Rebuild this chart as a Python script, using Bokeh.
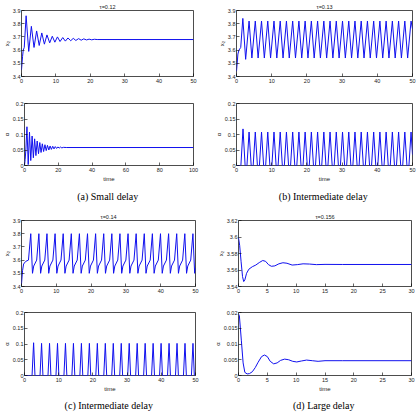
from bokeh.plotting import figure
from bokeh.layouts import column, row
from bokeh.models import Range1d, FixedTicker, CustomJSTickFormatter, Title
from bokeh.embed import file_html
from bokeh.resources import INLINE

# ---------------- data ----------------
# (a) small delay, tau = 0.12
a_t_x2 = [0, 0.3, 0.5, 0.8, 1.34, 2.1, 2.87, 3.64, 4.4, 5.15, 5.9, 6.65, 7.4, 8.2,
          8.95, 9.7, 10.45, 11.2, 12.0, 12.75, 13.5, 14.3, 15.05, 15.8,
          16.6, 17.35, 18.1, 18.9, 19.65, 20.4, 21.2, 22.0, 50]
a_x2 = [3.45, 3.55, 3.60, 3.62, 3.86, 3.59, 3.78, 3.62, 3.745, 3.635, 3.73, 3.645, 3.715, 3.655,
        3.705, 3.66, 3.70, 3.665, 3.695, 3.668, 3.692, 3.671, 3.689, 3.673,
        3.687, 3.675, 3.685, 3.677, 3.683, 3.678, 3.682, 3.68, 3.68]
a_t_alpha = [0, 0.4, 0.8, 1.45, 2.2, 2.95, 3.7, 4.5, 5.25, 6.0, 6.75, 7.5, 8.3, 9.05, 9.8,
             10.55, 11.3, 12.1, 12.85, 13.6, 14.4, 15.15, 15.9, 16.7, 17.45, 18.2, 19.0,
             19.75, 20.5, 21.3, 22.1, 23.0, 25.0, 100]
a_alpha = [0, 0.02, 0.05, 0.125, 0.003, 0.108, 0.016, 0.095, 0.025, 0.086, 0.032, 0.079, 0.038, 0.074, 0.042,
           0.070, 0.045, 0.067, 0.048, 0.065, 0.050, 0.063, 0.052, 0.062, 0.0535, 0.061, 0.055,
           0.060, 0.056, 0.0595, 0.0568, 0.0585, 0.058, 0.058]

# (b) intermediate delay, tau = 0.13
b_t_x2 = [0, 0.4, 0.7, 1.2, 1.8, 2.6,
          3.57, 4.37, 5.34, 6.14, 7.11, 7.91, 8.88, 9.68, 10.65, 11.45,
          12.42, 13.22, 14.19, 14.99, 15.96, 16.76, 17.73, 18.53, 19.5, 20.3,
          21.27, 22.07, 23.04, 23.84, 24.81, 25.61, 26.58, 27.38, 28.35, 29.15,
          30.12, 30.92, 31.89, 32.69, 33.66, 34.46, 35.43, 36.23, 37.2, 38.0,
          38.97, 39.77, 40.74, 41.54, 42.51, 43.31, 44.28, 45.08, 46.05, 46.85,
          47.82, 48.62, 49.59, 50]
b_x2 = [3.44, 3.57, 3.60, 3.62, 3.84, 3.53,
        3.82, 3.54, 3.82, 3.54, 3.82, 3.54, 3.82, 3.54, 3.82, 3.54,
        3.82, 3.54, 3.82, 3.54, 3.82, 3.54, 3.82, 3.54, 3.82, 3.54,
        3.82, 3.54, 3.82, 3.54, 3.82, 3.54, 3.82, 3.54, 3.82, 3.54,
        3.82, 3.54, 3.82, 3.54, 3.82, 3.54, 3.82, 3.54, 3.82, 3.54,
        3.82, 3.54, 3.82, 3.54, 3.82, 3.54, 3.82, 3.54, 3.82, 3.54,
        3.82, 3.54, 3.82, 3.76]
b_t_alpha = [0, 1.25, 1.85, 2.45,
             2.97, 3.57, 4.17, 4.74, 5.34, 5.94, 6.51, 7.11, 7.71, 8.28, 8.88, 9.48,
             10.05, 10.65, 11.25, 11.82, 12.42, 13.02, 13.59, 14.19, 14.79, 15.36, 15.96, 16.56,
             17.13, 17.73, 18.33, 18.9, 19.5, 20.1, 20.67, 21.27, 21.87, 22.44, 23.04, 23.64,
             24.21, 24.81, 25.41, 25.98, 26.58, 27.18, 27.75, 28.35, 28.95, 29.52, 30.12, 30.72,
             31.29, 31.89, 32.49, 33.06, 33.66, 34.26, 34.83, 35.43, 36.03, 36.6, 37.2, 37.8,
             38.37, 38.97, 39.57, 40.14, 40.74, 41.34, 41.91, 42.51, 43.11, 43.68, 44.28, 44.88,
             45.45, 46.05, 46.65, 47.22, 47.82, 48.42, 48.99, 49.59, 50.0]
b_alpha = [0, 0, 0.118, 0,
           0, 0.108, 0, 0, 0.108, 0, 0, 0.108, 0, 0, 0.108, 0,
           0, 0.108, 0, 0, 0.108, 0, 0, 0.108, 0, 0, 0.108, 0,
           0, 0.108, 0, 0, 0.108, 0, 0, 0.108, 0, 0, 0.108, 0,
           0, 0.108, 0, 0, 0.108, 0, 0, 0.108, 0, 0, 0.108, 0,
           0, 0.108, 0, 0, 0.108, 0, 0, 0.108, 0, 0, 0.108, 0,
           0, 0.108, 0, 0, 0.108, 0, 0, 0.108, 0, 0, 0.108, 0,
           0, 0.108, 0, 0, 0.108, 0, 0, 0.108, 0.035]

# (c) intermediate delay, tau = 0.14
c_t_x2 = [0, 0.3, 0.6, 1.2, 2.0, 2.66,
          3.16, 3.51, 4.36, 4.99, 5.49, 5.84, 6.69, 7.32, 7.82, 8.17, 9.02, 9.65,
          10.15, 10.5, 11.35, 11.98, 12.48, 12.83, 13.68, 14.31, 14.81, 15.16, 16.01, 16.64,
          17.14, 17.49, 18.34, 18.97, 19.47, 19.82, 20.67, 21.3, 21.8, 22.15, 23.0, 23.63,
          24.13, 24.48, 25.33, 25.96, 26.46, 26.81, 27.66, 28.29, 28.79, 29.14, 29.99, 30.62,
          31.12, 31.47, 32.32, 32.95, 33.45, 33.8, 34.65, 35.28, 35.78, 36.13, 36.98, 37.61,
          38.11, 38.46, 39.31, 39.94, 40.44, 40.79, 41.64, 42.27, 42.77, 43.12, 43.97, 44.6,
          45.1, 45.45, 46.3, 46.93, 47.43, 47.78, 48.63, 49.26, 49.76, 50]
c_x2 = [3.42, 3.52, 3.57, 3.59, 3.60, 3.80,
        3.50, 3.555, 3.60, 3.80, 3.50, 3.555, 3.60, 3.80, 3.50, 3.555, 3.60, 3.80,
        3.50, 3.555, 3.60, 3.80, 3.50, 3.555, 3.60, 3.80, 3.50, 3.555, 3.60, 3.80,
        3.50, 3.555, 3.60, 3.80, 3.50, 3.555, 3.60, 3.80, 3.50, 3.555, 3.60, 3.80,
        3.50, 3.555, 3.60, 3.80, 3.50, 3.555, 3.60, 3.80, 3.50, 3.555, 3.60, 3.80,
        3.50, 3.555, 3.60, 3.80, 3.50, 3.555, 3.60, 3.80, 3.50, 3.555, 3.60, 3.80,
        3.50, 3.555, 3.60, 3.80, 3.50, 3.555, 3.60, 3.80, 3.50, 3.555, 3.60, 3.80,
        3.50, 3.555, 3.60, 3.80, 3.50, 3.555, 3.60, 3.80, 3.50, 3.54]
c_t_alpha = [0, 2.21, 2.66, 3.06,
             4.54, 4.99, 5.39, 6.87, 7.32, 7.72, 9.2, 9.65, 10.05, 11.53, 11.98, 12.38,
             13.86, 14.31, 14.71, 16.19, 16.64, 17.04, 18.52, 18.97, 19.37, 20.85, 21.3, 21.7,
             23.18, 23.63, 24.03, 25.51, 25.96, 26.36, 27.84, 28.29, 28.69, 30.17, 30.62, 31.02,
             32.5, 32.95, 33.35, 34.83, 35.28, 35.68, 37.16, 37.61, 38.01, 39.49, 39.94, 40.34,
             41.82, 42.27, 42.67, 44.15, 44.6, 45.0, 46.48, 46.93, 47.33, 48.81, 49.26, 49.66, 50]
c_alpha = [0, 0, 0.104, 0,
           0, 0.102, 0, 0, 0.102, 0, 0, 0.102, 0, 0, 0.102, 0,
           0, 0.102, 0, 0, 0.102, 0, 0, 0.102, 0, 0, 0.102, 0,
           0, 0.102, 0, 0, 0.102, 0, 0, 0.102, 0, 0, 0.102, 0,
           0, 0.102, 0, 0, 0.102, 0, 0, 0.102, 0, 0, 0.102, 0,
           0, 0.102, 0, 0, 0.102, 0, 0, 0.102, 0, 0, 0.102, 0, 0]

# (d) large delay, tau = 0.156
d_t_x2 = [0, 0.2, 0.45, 0.7, 0.9, 1.1, 1.4, 1.8, 2.4, 3.0, 3.6, 4.2, 4.7, 5.2, 5.7, 6.3,
          7.0, 7.7, 8.4, 9.3, 10.2, 11.2, 12.3, 13.5, 15, 18, 30]
d_x2 = [3.599, 3.59, 3.57, 3.552, 3.546, 3.548, 3.556, 3.561, 3.564, 3.566, 3.569, 3.5715,
        3.5705, 3.5665, 3.5645, 3.565, 3.5675, 3.5688, 3.5682, 3.566, 3.5665, 3.5675,
        3.5672, 3.5665, 3.5668, 3.5667, 3.5667]
d_t_alpha = [0, 0.15, 0.5, 0.8, 1.1, 1.5, 1.9, 2.4, 2.9, 3.4, 4.0, 4.5, 5.0, 5.5, 6.1, 6.7,
             7.3, 8.0, 8.7, 9.4, 10.1, 10.9, 11.8, 12.8, 13.8, 15, 18, 30]
d_alpha = [0.0195, 0.019, 0.011, 0.004, 0.001, 0.0005, 0.0006, 0.0012, 0.0025, 0.0042, 0.006,
           0.0065, 0.006, 0.0045, 0.0037, 0.004, 0.0048, 0.0052, 0.005, 0.0045, 0.0043, 0.0046,
           0.0049, 0.0047, 0.0045, 0.0047, 0.0047, 0.0047]

# tick positions and labels
xt50 = [0, 10, 20, 30, 40, 50]
xl50 = ["0", "10", "20", "30", "40", "50"]
xt100 = [0, 20, 40, 60, 80, 100]
xl100 = ["0", "20", "40", "60", "80", "100"]
xt30 = [0, 5, 10, 15, 20, 25, 30]
xl30 = ["0", "5", "10", "15", "20", "25", "30"]
yt_x2 = [3.4, 3.5, 3.6, 3.7, 3.8, 3.9]
yl_x2 = ["3.4", "3.5", "3.6", "3.7", "3.8", "3.9"]
yt_al = [0, 0.05, 0.1, 0.15, 0.2]
yl_al = ["0", "0.05", "0.1", "0.15", "0.2"]
yt_x2d = [3.54, 3.56, 3.58, 3.6, 3.62]
yl_x2d = ["3.54", "3.56", "3.58", "3.6", "3.62"]
yt_ald = [0, 0.005, 0.01, 0.015, 0.02]
yl_ald = ["0", "0.005", "0.01", "0.015", "0.02"]

titles = ["\u03c4=0.12", "\u03c4=0.13", "\u03c4=0.14", "\u03c4=0.156"]
captions = ["(a)  Small delay", "(b)  Intermediate delay", "(c)  Intermediate delay", "(d)  Large delay"]

LINE = "#1010ee"
SANS = "Liberation Sans"
SERIF = "Liberation Serif"


def fmt(tick_values, tick_labels):
    return CustomJSTickFormatter(args=dict(tv=tick_values, tl=tick_labels), code="""
        for (let i = 0; i < tv.length; i++) {
            if (Math.abs(tv[i] - tick) < 1e-9) { return tl[i]; }
        }
        return '';
    """)


def panel(w, h, bl, br, bt, bb, t, y, xr, xt, xl, yr, yt, yl, ylabel,
          title="", xlabel=None, caption=None, cap_standoff=6):
    p = figure(width=w, height=h, min_border_left=bl, min_border_right=br,
               min_border_top=bt, min_border_bottom=bb,
               x_range=Range1d(*xr), y_range=Range1d(*yr),
               output_backend="svg", toolbar_location=None, title=title)
    p.line(x=t, y=y, line_color=LINE, line_width=1.0)
    p.grid.visible = False
    p.outline_line_color = "black"
    p.outline_line_width = 0.7
    p.background_fill_color = "white"
    p.border_fill_color = "white"
    p.title.align = "center"
    p.title.text_font = SANS
    p.title.text_font_size = "5.5px"
    p.title.text_font_style = "normal"
    p.title.text_color = "#222222"
    p.title.standoff = 2
    for ax, tk, lb in ((p.xaxis[0], xt, xl), (p.yaxis[0], yt, yl)):
        ax.ticker = FixedTicker(ticks=tk)
        ax.formatter = fmt(tk, lb)
        ax.axis_line_color = None
        ax.major_tick_in = 3
        ax.major_tick_out = 0
        ax.major_tick_line_color = "black"
        ax.major_tick_line_width = 0.6
        ax.minor_tick_line_color = None
        ax.major_label_text_font = SANS
        ax.major_label_text_font_size = "5.5px"
        ax.major_label_text_color = "#222222"
        ax.major_label_standoff = 2
        ax.axis_label_text_font = SANS
        ax.axis_label_text_font_size = "6px"
        ax.axis_label_text_font_style = "normal"
        ax.axis_label_text_color = "#222222"
        ax.axis_label_standoff = 0
    p.yaxis.major_label_standoff = 1
    p.yaxis.axis_label = ylabel
    if xlabel:
        p.xaxis.axis_label = xlabel
        p.xaxis.axis_label_standoff = 1
    if caption:
        p.add_layout(Title(text=caption, align="center", text_font=SERIF,
                           text_font_size="10px", text_font_style="normal",
                           text_color="black", standoff=cap_standoff), "below")
    return p


a1 = panel(205, 95, 19, 12, 10, 19, a_t_x2, a_x2, (0, 50), xt50, xl50, (3.4, 3.9), yt_x2, yl_x2,
           "x\u2082", title=titles[0])
b1 = panel(212, 95, 31, 5, 10, 19, b_t_x2, b_x2, (0, 50), xt50, xl50, (3.4, 3.9), yt_x2, yl_x2,
           "x\u2082", title=titles[1])
a2 = panel(205, 110, 19, 12, 8, 37, a_t_alpha, a_alpha, (0, 100), xt100, xl100, (0, 0.2), yt_al, yl_al,
           "\u03b1", xlabel="time", caption=captions[0], cap_standoff=8)
b2 = panel(212, 110, 31, 5, 8, 37, b_t_alpha, b_alpha, (0, 50), xt50, xl50, (0, 0.2), yt_al, yl_al,
           "\u03b1", xlabel="time", caption=captions[1], cap_standoff=8)
c1 = panel(205, 97, 19, 10, 15, 15, c_t_x2, c_x2, (0, 50), xt50, xl50, (3.4, 3.9), yt_x2, yl_x2,
           "x\u2082", title=titles[2])
d1 = panel(212, 97, 33, 6, 15, 16, d_t_x2, d_x2, (0, 30), xt30, xl30, (3.54, 3.62), yt_x2d, yl_x2d,
           "x\u2082", title=titles[3])
c2 = panel(205, 112, 19, 10, 10, 35, c_t_alpha, c_alpha, (0, 50), xt50, xl50, (0, 0.2), yt_al, yl_al,
           "\u03b1", xlabel="time", caption=captions[2], cap_standoff=7)
d2 = panel(212, 112, 33, 6, 10, 35, d_t_alpha, d_alpha, (0, 30), xt30, xl30, (0, 0.02), yt_ald, yl_ald,
           "\u03b1", xlabel="time", caption=captions[3], cap_standoff=7)

layout = column(row(a1, b1), row(a2, b2), row(c1, d1), row(c2, d2))

open("out.html", "w").write(file_html(layout, INLINE))
